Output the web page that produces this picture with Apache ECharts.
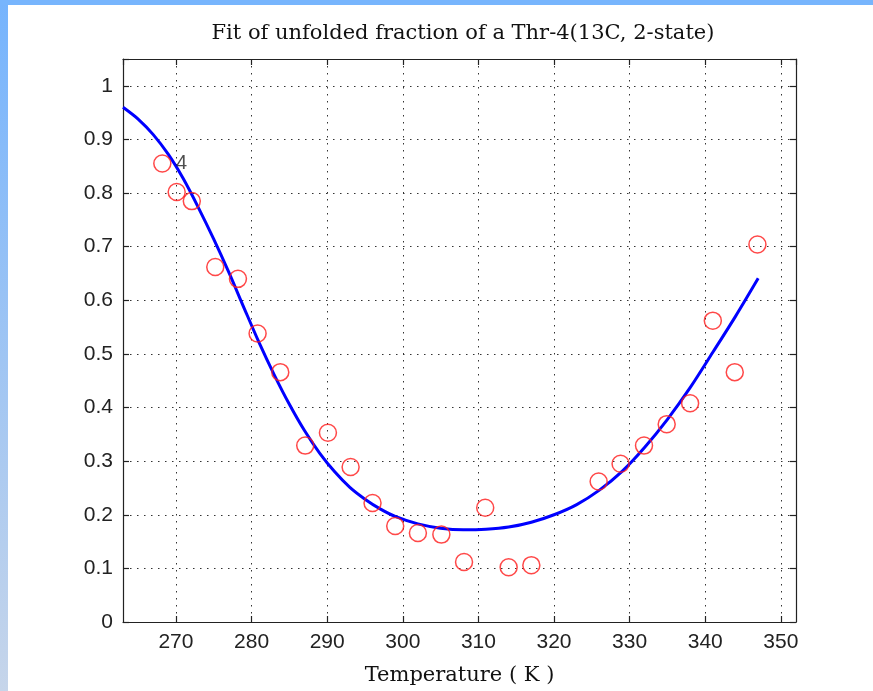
<!DOCTYPE html>
<html>
<head>
<meta charset="utf-8">
<script src="https://cdn.jsdelivr.net/npm/echarts@6/dist/echarts.min.js"></script>
<style>
html,body{margin:0;padding:0;background:#fff;}
#wrap{position:relative;width:873px;height:691px;overflow:hidden;background:#fff;}
#topbar{position:absolute;left:0;top:0;width:873px;height:5px;background:#77b5fd;}
#leftbar{position:absolute;left:0;top:0;width:8px;height:691px;background:linear-gradient(#76b4fd,#c6d5ea);}
#chart{position:absolute;left:0;top:0;width:873px;height:691px;}
</style>
</head>
<body>
<div id="wrap">
<div id="chart"></div>
<div id="leftbar"></div>
<div id="topbar"></div>
</div>
<script>
// Measured data (temperature K, unfolded fraction)
var temps = [268.2, 270.1, 272.1, 275.2, 278.2, 280.8, 283.8, 287.1, 290.1, 293.1, 296.0, 299.0, 302.0, 305.1, 308.1, 310.9, 314.0, 317.0, 325.9, 328.8, 331.9, 334.9, 338.0, 341.0, 343.9, 346.9];
var fractions = [0.855, 0.802, 0.785, 0.662, 0.640, 0.538, 0.466, 0.329, 0.353, 0.289, 0.222, 0.179, 0.166, 0.163, 0.112, 0.213, 0.102, 0.106, 0.262, 0.295, 0.329, 0.369, 0.408, 0.562, 0.466, 0.704];

// Fitted curve
var fitT = [263, 265, 267, 269, 271, 273, 275, 277, 279, 281, 283, 285, 287, 289, 291, 293, 295, 297, 299, 302, 305, 308, 311, 314, 317, 320, 323, 326, 329, 332, 335, 338, 341, 344, 347];
var fitF = [0.960, 0.938, 0.909, 0.872, 0.826, 0.772, 0.714, 0.652, 0.586, 0.521, 0.461, 0.406, 0.357, 0.315, 0.280, 0.251, 0.229, 0.211, 0.197, 0.183, 0.175, 0.172, 0.173, 0.177, 0.186, 0.200, 0.219, 0.246, 0.281, 0.326, 0.378, 0.437, 0.503, 0.570, 0.641];

// Annotation
var noteT = [270.0];
var noteF = [0.856];
var noteText = ['4'];

var xTickLabels = [270, 280, 290, 300, 310, 320, 330, 340, 350];
var yTickLabels = [0, 0.1, 0.2, 0.3, 0.4, 0.5, 0.6, 0.7, 0.8, 0.9, 1];

var titleText = 'Fit of unfolded fraction of a Thr-4(13C, 2-state)';
var xName = 'Temperature ( K )';

var tickFont = 'Liberation Sans';
var serifFont = 'DejaVu Serif';

function zip(a, b) { return a.map(function (v, i) { return [v, b[i]]; }); }

var chart = echarts.init(document.getElementById('chart'), null, {renderer: 'canvas'});

var gridLine = {show: true, lineStyle: {color: '#333', width: 1, type: [1.5, 5.5]}};
var axisLine = {show: true, onZero: false, lineStyle: {color: '#222', width: 1.2}};
var tickIn = {show: true, inside: true, length: 6, lineStyle: {color: '#222', width: 1.2}};

function xFmt(v) { return xTickLabels.indexOf(Math.round(v)) >= 0 && Math.abs(v - Math.round(v)) < 1e-6 ? String(Math.round(v)) : ''; }
function yFmt(v) { var r = Math.round(v * 10) / 10; return (Math.abs(v - r) < 1e-6 && yTickLabels.indexOf(r) >= 0) ? String(r) : ''; }

chart.setOption({
  animation: false,
  backgroundColor: 'transparent',
  title: {
    text: titleText,
    left: 458, top: 18, textAlign: 'center',
    textStyle: {fontFamily: serifFont, fontWeight: 'normal', fontSize: 21, color: '#111'}
  },
  grid: {left: 123, right: 77, top: 59, bottom: 69},
  xAxis: [{
    type: 'value', min: 263, max: 352, splitNumber: 9, position: 'bottom',
    name: xName, nameLocation: 'middle', nameGap: 43,
    nameTextStyle: {fontFamily: serifFont, fontSize: 21, color: '#111'},
    axisLine: axisLine, axisTick: tickIn, splitLine: gridLine,
    axisLabel: {formatter: xFmt, fontFamily: tickFont, fontSize: 21, color: '#222', margin: 10, showMinLabel: false, showMaxLabel: false}
  }, {
    type: 'value', min: 263, max: 352, splitNumber: 9, position: 'top',
    axisLine: axisLine, axisTick: tickIn, splitLine: {show: false}, axisLabel: {show: false}
  }],
  yAxis: [{
    type: 'value', min: 0, max: 1.05, interval: 0.1, position: 'left',
    axisLine: axisLine, axisTick: tickIn, splitLine: gridLine,
    axisLabel: {formatter: yFmt, fontFamily: tickFont, fontSize: 21, color: '#222', margin: 10}
  }, {
    type: 'value', min: 0, max: 1.05, interval: 0.1, position: 'right',
    axisLine: axisLine, axisTick: tickIn, splitLine: {show: false}, axisLabel: {show: false}
  }],
  series: [{
    type: 'line', data: zip(fitT, fitF), smooth: 0.3, showSymbol: false,
    lineStyle: {color: '#0000ff', width: 3}, z: 3
  }, {
    type: 'scatter', data: zip(temps, fractions), symbol: 'circle', symbolSize: 17,
    itemStyle: {color: 'rgba(0,0,0,0)', borderColor: '#ff1a1a', borderWidth: 1.5}, z: 4
  }, {
    type: 'scatter', data: zip(noteT, noteF), symbolSize: 0, silent: true,
    label: {show: true, position: 'inside', align: 'left', verticalAlign: 'middle',
      formatter: function (p) { return noteText[p.dataIndex]; },
      fontFamily: tickFont, fontSize: 20, color: '#222'}, z: 5
  }]
});
</script>
</body>
</html>
